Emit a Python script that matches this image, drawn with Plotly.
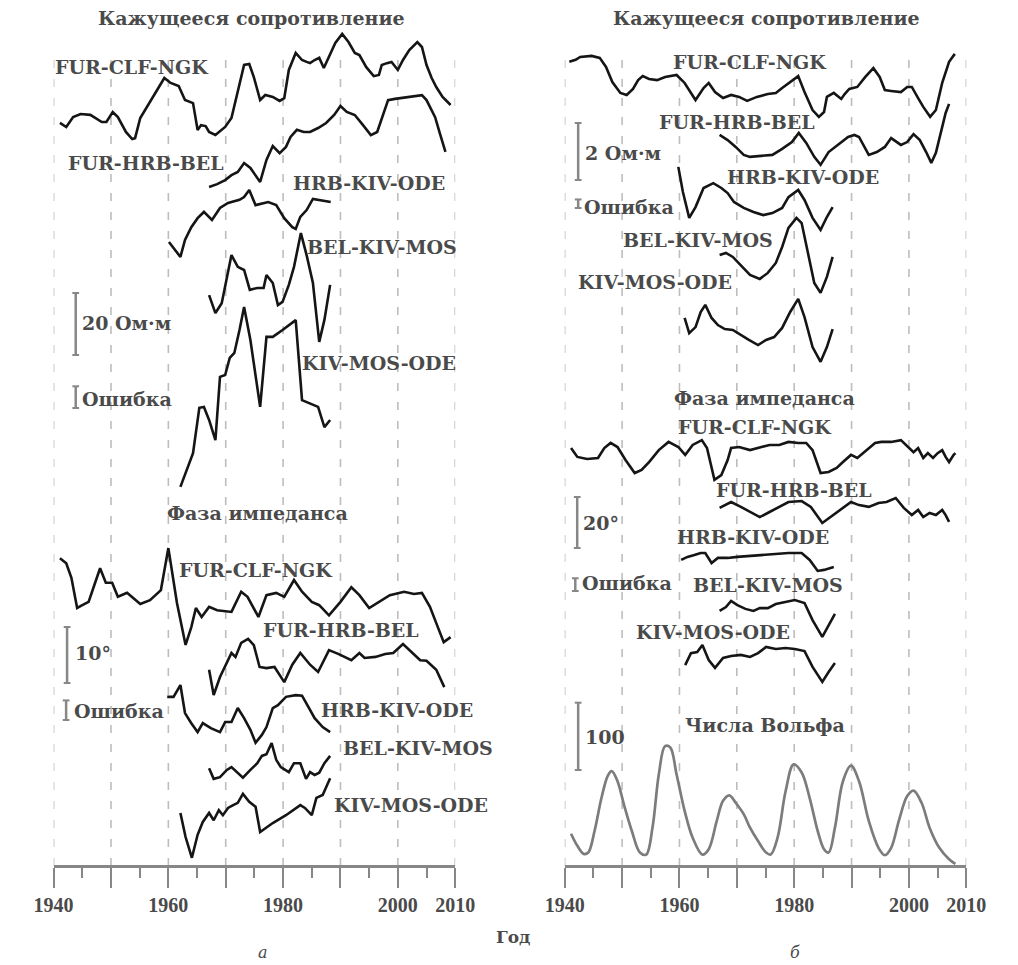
import numpy as np
import plotly.graph_objects as go

W, H = 1018, 965

# ======================= DATA =======================
# Panel а : apparent resistivity (Ом·м, relative), five station triplets
a_rho_fcn_years = [1941.1,1942.2,1943.4,1944.7,1946.4,1948.4,1949.2,1950.3,1951.2,1952.6,1953.7,1954.2,1955.1,1957.0,1959.3,1960.4,1961.8,1962.9,1964.3,1965.1,1965.7,1966.5,1967.1,1968.2,1969.9,1971.0,1972.1,1973.2,1974.1,1974.9,1976.0,1976.9,1978.2,1979.4,1980.2,1981.0,1982.2,1983.3,1984.1,1984.7,1985.5,1986.3,1987.1,1988.0,1989.1,1990.3,1991.4,1992.5,1993.3,1994.5,1995.8,1996.7,1997.2,1998.1,1998.9,2000.0,2000.9,2002.0,2003.4,2004.2,2005.0,2005.9,2006.7,2007.8,2009.2]
a_rho_fcn = [5.5,4.2,7.4,8.4,8.1,5.8,5.8,9.0,7.4,2.6,0.3,0.6,7.1,12.9,20.0,18.4,17.4,12.9,11.9,3.2,4.8,4.5,2.6,1.6,4.2,7.1,16.1,24.2,24.5,20.3,12.9,14.5,13.9,12.6,13.5,22.6,28.1,25.8,25.2,24.8,25.8,26.5,23.2,26.8,31.3,34.2,31.6,28.1,27.4,23.5,20.6,21.0,24.2,24.8,25.2,22.6,25.8,29.0,31.6,30.0,24.2,20.0,17.1,13.9,11.3]

a_rho_fhb_years = [1967.1,1968.5,1969.9,1971.0,1972.1,1973.2,1974.3,1976.0,1977.1,1978.2,1979.4,1980.5,1981.3,1982.4,1983.6,1984.7,1986.1,1987.5,1988.9,1990.0,1991.1,1992.5,1993.9,1995.3,1996.4,1997.2,1998.3,1999.5,2000.9,2002.3,2004.2,2005.0,2006.5,2007.3,2008.3]
a_rho_fhb = [1.0,1.9,3.2,4.8,5.8,8.7,7.1,2.6,9.7,14.2,11.9,13.9,17.1,19.4,18.7,18.7,20.0,21.6,24.2,27.1,25.2,24.2,21.0,17.7,18.7,23.2,29.0,29.4,29.7,30.0,30.6,29.0,23.5,18.4,12.3]

a_rho_hko_years = [1960.1,1962.1,1962.9,1964.0,1965.1,1966.2,1967.6,1969.0,1970.4,1972.4,1973.2,1974.1,1975.2,1976.3,1977.4,1978.8,1980.2,1981.6,1982.2,1983.0,1984.1,1985.2,1986.3,1988.3]
a_rho_hko = [5.8,1.0,6.5,10.6,13.5,15.5,12.9,16.8,18.4,19.4,20.3,22.6,17.7,18.1,18.7,17.7,13.5,10.6,10.0,13.9,16.1,19.7,19.4,18.7]

a_rho_bkm_years = [1967.1,1968.2,1969.3,1971.0,1972.1,1973.2,1974.2,1975.5,1976.6,1977.1,1978.2,1979.1,1979.9,1981.0,1981.9,1983.1,1984.1,1985.2,1986.3,1987.2,1988.2]
a_rho_bkm = [16.1,10.3,13.5,29.0,25.2,24.2,17.8,18.4,18.4,22.6,20.0,12.9,13.9,19.4,25.2,36.1,29.0,20.0,1.0,8.1,19.4]

a_rho_kmo_years = [1962.1,1963.2,1964.3,1965.4,1966.2,1967.1,1968.2,1969.0,1969.9,1970.7,1971.5,1972.4,1973.2,1974.3,1976.0,1977.1,1978.2,1979.9,1982.2,1983.3,1984.4,1986.1,1987.2,1988.2]
a_rho_kmo = [1.0,6.5,11.9,26.5,26.8,22.6,16.1,36.5,37.1,42.6,44.2,51.6,59.0,48.4,26.8,49.4,49.4,51.6,54.8,29.0,28.1,26.8,20.3,22.6]

# Panel а : impedance phase (degrees, relative)
a_phi_fcn_years = [1941.1,1942.2,1943.1,1944.1,1945.0,1946.1,1947.1,1948.1,1949.1,1950.2,1951.2,1952.8,1955.1,1956.8,1958.7,1960.0,1961.5,1963.0,1964.0,1964.8,1965.8,1967.1,1968.5,1971.0,1972.7,1973.8,1975.7,1977.1,1978.8,1980.2,1981.9,1983.3,1985.0,1986.3,1988.0,1990.0,1991.9,1993.3,1995.0,1996.7,1998.6,2001.1,2002.8,2004.2,2005.6,2006.7,2008.0,2009.2]
a_phi_fcn = [16.4,15.5,12.9,7.5,8.0,8.6,11.6,14.6,12.0,12.0,9.5,10.2,8.2,8.9,10.7,18.2,8.4,0.9,4.1,7.5,5.9,7.7,7.1,6.8,10.4,9.5,5.9,9.8,10.2,9.5,12.5,10.4,8.6,8.0,6.2,8.6,11.2,9.8,7.5,8.6,9.8,10.4,10.0,10.2,7.7,4.8,1.4,2.3]

a_phi_fhb_years = [1967.1,1967.9,1969.0,1970.2,1971.0,1971.7,1972.7,1973.9,1974.9,1975.9,1977.1,1978.5,1980.2,1981.6,1983.0,1984.7,1986.1,1988.0,1989.7,1991.9,1993.3,1994.2,1996.1,1997.8,1999.2,2000.9,2002.5,2003.9,2005.0,2006.7,2008.1]
a_phi_fhb = [5.4,0.9,4.1,6.6,8.4,7.7,10.2,10.9,9.8,5.9,5.7,5.9,3.2,6.3,8.4,6.3,5.0,8.9,8.2,7.1,8.4,7.5,7.7,8.2,8.4,10.0,8.4,7.1,7.0,5.4,2.3]

a_phi_hko_years = [1959.8,1960.9,1962.1,1962.9,1964.0,1965.1,1966.0,1967.4,1969.0,1969.9,1971.0,1972.1,1973.2,1974.3,1975.2,1976.3,1977.1,1978.2,1979.1,1980.5,1982.2,1983.3,1984.4,1985.5,1986.9,1988.2]
a_phi_hko = [8.6,8.6,10.7,5.7,3.9,2.3,3.9,3.0,2.3,4.1,4.1,6.6,4.8,2.7,0.4,1.8,3.2,6.6,7.1,8.6,8.9,8.8,6.8,4.8,3.2,2.3]

a_phi_bkm_years = [1967.1,1967.9,1969.0,1970.2,1971.0,1972.1,1973.0,1974.3,1975.5,1976.3,1977.1,1978.0,1978.8,1979.6,1981.0,1981.9,1983.0,1984.0,1984.7,1985.5,1986.3,1987.2,1988.2]
a_phi_bkm = [2.1,0.2,0.5,1.8,2.3,1.3,0.4,1.8,3.0,4.3,4.6,6.6,3.6,2.3,1.4,3.0,3.0,0.2,1.4,0.9,1.3,3.0,4.3]

a_phi_kmo_years = [1962.1,1963.0,1964.1,1965.1,1966.0,1967.1,1967.9,1968.8,1969.5,1970.4,1971.3,1972.1,1973.0,1974.1,1975.2,1976.0,1978.2,1980.5,1983.0,1983.8,1985.0,1985.8,1986.9,1988.2]
a_phi_kmo = [8.4,4.1,0.4,4.5,6.8,8.4,7.1,8.9,8.0,9.3,9.8,10.2,11.8,10.4,9.5,5.0,6.6,8.0,9.8,9.3,8.0,11.1,11.6,14.6]

# Panel б : apparent resistivity (Ом·м, relative)
b_rho_fcn_years = [1940.8,1941.9,1942.7,1944.7,1946.1,1947.2,1948.3,1949.7,1950.8,1951.9,1952.8,1953.6,1954.7,1956.1,1957.5,1959.5,1960.9,1962.8,1964.2,1965.1,1966.2,1967.6,1969.0,1970.4,1971.8,1973.5,1975.4,1976.8,1977.9,1979.3,1980.7,1981.8,1983.2,1984.3,1985.2,1985.7,1986.9,1988.2,1988.8,1989.6,1991.0,1992.4,1993.8,1994.9,1995.8,1996.9,1998.6,1999.7,2000.5,2001.6,2002.5,2003.7,2004.7,2005.8,2007.0,2008.0]
b_rho_fcn = [2.04,2.11,2.21,2.25,2.18,1.86,1.33,0.95,0.88,1.09,1.40,1.54,1.44,1.40,1.51,1.58,1.30,0.70,1.12,1.30,0.98,0.77,0.88,0.81,0.67,0.81,0.91,0.95,1.12,1.33,1.54,0.98,0.35,0.11,0.28,0.81,0.95,0.74,0.91,1.09,1.16,1.51,1.82,1.51,1.05,1.02,0.98,1.16,1.16,0.77,0.46,0.11,0.35,1.30,2.04,2.32]

b_rho_fhb_years = [1967.0,1968.4,1969.8,1971.2,1972.3,1974.6,1976.2,1977.9,1979.6,1980.8,1982.1,1983.5,1984.6,1986.0,1987.1,1988.2,1989.4,1990.5,1991.3,1993.0,1994.4,1995.8,1996.9,1998.6,1999.7,2000.8,2001.9,2003.0,2003.9,2004.7,2005.5,2006.4,2007.0]
b_rho_fhb = [1.23,1.05,0.81,0.53,0.46,0.49,0.53,0.74,0.98,1.30,0.95,0.46,0.18,0.63,0.81,0.98,1.16,1.23,1.16,0.53,0.63,0.81,1.12,0.88,0.98,1.26,1.05,0.63,0.25,0.60,1.30,2.00,2.32]

b_rho_hko_years = [1959.8,1960.6,1961.7,1962.8,1964.2,1965.9,1967.3,1968.4,1969.5,1971.2,1972.9,1974.6,1976.2,1977.9,1979.0,1980.7,1981.8,1983.2,1984.6,1985.7,1986.7]
b_rho_hko = [2.39,1.51,0.60,0.98,1.65,1.82,1.65,1.47,1.16,0.95,0.81,0.70,0.77,0.95,1.33,1.58,1.23,0.60,0.18,0.63,0.98]

b_rho_bkm_years = [1967.0,1968.1,1969.3,1970.7,1972.3,1974.0,1975.4,1976.8,1977.9,1979.0,1980.4,1981.3,1982.4,1983.5,1984.6,1985.7,1986.7]
b_rho_bkm = [1.58,1.65,1.51,1.23,0.88,0.74,0.95,1.30,1.86,2.53,2.88,2.70,1.65,0.60,0.25,0.81,1.51]

b_rho_kmo_years = [1960.9,1961.7,1962.8,1963.7,1964.5,1965.6,1966.7,1967.9,1969.3,1970.7,1972.1,1973.7,1975.1,1976.5,1977.9,1979.3,1980.7,1981.8,1983.2,1984.6,1985.7,1986.7]
b_rho_kmo = [1.65,1.12,1.33,1.86,2.11,1.65,1.40,1.26,1.23,1.05,0.88,0.70,0.88,0.98,1.30,1.86,2.32,1.68,0.63,0.11,0.63,1.26]

# Panel б : impedance phase (degrees, relative)
b_phi_fcn_years = [1941.1,1942.2,1943.9,1945.8,1946.9,1948.0,1949.2,1950.6,1952.2,1953.4,1954.7,1956.4,1958.1,1959.8,1961.0,1962.3,1963.9,1964.8,1966.1,1967.3,1968.4,1969.0,1970.4,1972.3,1974.3,1975.7,1977.4,1979.0,1980.7,1982.1,1983.2,1984.6,1986.0,1987.4,1988.5,1989.9,1991.0,1992.7,1994.1,1995.2,1996.9,1998.6,2000.0,2000.8,2001.6,2002.5,2003.3,2004.2,2005.0,2005.8,2006.4,2007.0,2007.8,2008.1]
b_phi_fcn = [14.5,11.0,10.2,10.6,14.5,16.5,14.9,9.8,4.7,5.9,9.0,13.7,16.9,14.9,11.8,15.7,17.6,14.5,2.0,3.9,9.8,14.5,14.9,13.7,14.9,15.7,15.7,16.9,16.5,16.5,13.7,4.7,5.1,6.7,9.0,11.8,10.6,13.7,16.5,16.9,16.9,17.6,14.5,12.9,14.5,10.6,12.5,10.6,12.5,13.7,11.0,9.0,11.8,12.5]

b_phi_fhb_years = [1967.0,1969.0,1970.7,1972.6,1974.0,1975.7,1977.4,1979.0,1981.3,1982.9,1984.9,1986.3,1988.0,1989.9,1991.3,1993.0,1994.7,1996.1,1997.7,1999.1,2000.5,2001.6,2002.5,2003.6,2004.7,2005.8,2006.4,2007.0]
b_phi_fhb = [6.7,9.0,7.1,4.7,3.1,5.1,7.1,9.0,9.4,7.1,0.8,3.1,5.9,9.0,7.8,7.1,8.6,9.0,10.6,6.7,3.9,5.9,3.1,4.7,3.9,5.9,3.9,1.2]

b_phi_hko_years = [1960.3,1961.4,1962.6,1963.7,1964.5,1965.6,1966.7,1968.4,1970.1,1972.3,1974.6,1976.8,1979.0,1981.3,1982.7,1984.1,1985.2,1986.9]
b_phi_hko = [5.9,7.1,7.8,8.6,8.6,4.7,6.7,6.7,7.1,7.5,7.8,8.2,8.6,8.6,5.9,1.6,2.0,3.1]

b_phi_bkm_years = [1967.0,1968.1,1969.0,1970.1,1971.5,1972.9,1974.0,1975.4,1976.8,1978.5,1980.1,1981.8,1983.2,1984.9,1986.0,1987.1]
b_phi_bkm = [11.4,12.9,15.3,13.7,12.2,11.4,12.5,12.5,14.1,14.9,15.7,14.5,7.8,1.2,5.9,10.2]

b_phi_kmo_years = [1961.0,1962.0,1963.1,1964.0,1965.1,1966.2,1967.6,1969.0,1970.7,1972.3,1973.7,1975.1,1976.8,1978.5,1980.1,1981.8,1983.2,1984.9,1986.0,1987.1]
b_phi_kmo = [7.8,12.5,12.9,15.7,9.8,6.7,10.6,11.4,11.8,11.0,12.5,14.9,14.1,14.5,14.1,13.3,7.1,1.2,5.1,8.6]

# Panel б : Wolf (sunspot) numbers
wolf_years = [1941.1,1942.2,1943.3,1944.1,1945.2,1946.4,1947.5,1948.2,1949.2,1950.3,1951.7,1953.1,1954.2,1955.3,1956.4,1957.5,1958.4,1959.5,1960.9,1962.3,1964.0,1965.1,1966.5,1967.6,1968.7,1969.8,1971.2,1972.3,1973.7,1975.1,1975.9,1977.1,1978.5,1979.9,1981.3,1982.7,1984.1,1985.2,1986.0,1987.1,1988.5,1989.9,1991.3,1993.0,1994.7,1995.8,1996.9,1998.3,1999.7,2000.8,2002.2,2003.6,2005.3,2007.0,2008.1]
wolf = [48,30,18,20,52,101,134,141,126,92,52,20,17,57,136,178,176,136,82,42,17,25,67,97,105,94,77,57,37,20,17,42,111,151,139,101,52,25,20,57,126,149,126,67,27,16,27,69,104,112,94,57,27,10,3]

station_labels = ["FUR-CLF-NGK", "FUR-HRB-BEL", "HRB-KIV-ODE", "BEL-KIV-MOS", "KIV-MOS-ODE"]
tick_years = [1940, 1950, 1960, 1970, 1980, 1990, 2000, 2010]
tick_text = ["1940", "", "1960", "", "1980", "", "2000", "2010"]

# scale bars (value of bar) and error bars
scale_vals = {"y": 20, "y2": 10, "y3": 2, "y4": 20, "y5": 100}
error_vals = {"y": 7, "y2": 3.5, "y3": 0.3, "y4": 5}

# ======================= LAYOUT / GEOMETRY =======================
AXIS_PX = 866          # vertical pixel of the time axes
GRID_TOP = 50
LEFT_DOM = (35, 453)
RIGHT_DOM = (567, 985)
# pixels per data unit for each hidden y-axis
PPU = {"y": 3.1, "y2": 5.6, "y3": 28.5, "y4": 2.55, "y5": 0.673}

def py(p):  # pixel row -> paper fraction
    return 1 - p / H

def px(p):
    return p / W

def base(axis, pixel_row):  # vertical offset of a trace, in axis units
    return -pixel_row / PPU[axis]

BLACK = "#151515"
GREY = "#878787"
TXT = "#4a4a4a"
LBL_FONT = dict(family="DejaVu Serif", size=19, color=TXT, weight="bold")

series = [
    # years, vals, xaxis, yaxis, baseline pixel row
    (a_rho_fcn_years, a_rho_fcn, "x", "y", 140),
    (a_rho_fhb_years, a_rho_fhb, "x", "y", 190),
    (a_rho_hko_years, a_rho_hko, "x", "y", 260),
    (a_rho_bkm_years, a_rho_bkm, "x", "y", 345),
    (a_rho_kmo_years, a_rho_kmo, "x", "y", 490),
    (a_phi_fcn_years, a_phi_fcn, "x", "y2", 650),
    (a_phi_fhb_years, a_phi_fhb, "x", "y2", 700),
    (a_phi_hko_years, a_phi_hko, "x", "y2", 745),
    (a_phi_bkm_years, a_phi_bkm, "x", "y2", 780),
    (a_phi_kmo_years, a_phi_kmo, "x", "y2", 860),
    (b_rho_fcn_years, b_rho_fcn, "x2", "y3", 120),
    (b_rho_fhb_years, b_rho_fhb, "x2", "y3", 170),
    (b_rho_hko_years, b_rho_hko, "x2", "y3", 235),
    (b_rho_bkm_years, b_rho_bkm, "x2", "y3", 300),
    (b_rho_kmo_years, b_rho_kmo, "x2", "y3", 365),
    (b_phi_fcn_years, b_phi_fcn, "x2", "y4", 485),
    (b_phi_fhb_years, b_phi_fhb, "x2", "y4", 525),
    (b_phi_hko_years, b_phi_hko, "x2", "y4", 575),
    (b_phi_bkm_years, b_phi_bkm, "x2", "y4", 640),
    (b_phi_kmo_years, b_phi_kmo, "x2", "y4", 685),
]

fig = go.Figure()
for yrs, vals, xa, ya, b in series:
    fig.add_trace(go.Scatter(
        x=yrs, y=np.array(vals, dtype=float) + base(ya, b),
        mode="lines", line=dict(color=BLACK, width=2.6),
        xaxis=xa, yaxis=ya, hoverinfo="skip", showlegend=False, cliponaxis=False))

fig.add_trace(go.Scatter(
    x=wolf_years, y=np.array(wolf, dtype=float) + base("y5", AXIS_PX),
    mode="lines", line=dict(color="#7c7c7c", width=2.7, shape="spline", smoothing=1.0),
    xaxis="x2", yaxis="y5", hoverinfo="skip", showlegend=False, cliponaxis=False))

# ---------- axes ----------
def xaxis_cfg(dom):
    return dict(
        domain=[px(dom[0]), px(dom[1])], range=[1940, 2010], autorange=False,
        anchor="free", position=py(AXIS_PX),
        showline=True, linecolor=GREY, linewidth=3,
        ticks="outside", ticklen=20, tickwidth=2, tickcolor=GREY,
        tickmode="array", tickvals=tick_years, ticktext=tick_text,
        tickfont=dict(family="Liberation Serif", size=20, color=TXT, weight="bold"),
        minor=dict(ticks="outside", tickmode="linear", tick0=1940, dtick=5,
                   ticklen=10, tickwidth=2, tickcolor=GREY, showgrid=False),
        showgrid=False, zeroline=False, fixedrange=True)

layout_axes = {"xaxis": xaxis_cfg(LEFT_DOM), "xaxis2": xaxis_cfg(RIGHT_DOM)}
for i, ya in enumerate(["y", "y2", "y3", "y4", "y5"]):
    key = "yaxis" if i == 0 else f"yaxis{i+1}"
    layout_axes[key] = dict(domain=[0, 1], range=[-H / PPU[ya], 0], autorange=False,
                            visible=False, fixedrange=True,
                            anchor="x" if ya in ("y", "y2") else "x2")

shapes = []
# dashed vertical grid lines
for xr in ["x", "x2"]:
    for yr in tick_years:
        shapes.append(dict(type="line", xref=xr, yref="paper", x0=yr, x1=yr,
                           y0=py(AXIS_PX), y1=py(GRID_TOP), layer="below",
                           line=dict(color="#bdbdbd", width=1.6, dash="8px,11px")))

def bar(ya, xpix, bottom_pix, value):
    y0 = base(ya, bottom_pix)
    y1 = y0 + value
    shapes.append(dict(type="line", xref="paper", yref=ya, x0=px(xpix), x1=px(xpix),
                       y0=y0, y1=y1, line=dict(color=GREY, width=2.5)))
    for yy in (y0, y1):
        shapes.append(dict(type="line", xref="paper", yref=ya, x0=px(xpix - 3.5), x1=px(xpix + 3.5),
                           y0=yy, y1=yy, line=dict(color=GREY, width=2)))

bar("y", 58, 355, scale_vals["y"])
bar("y", 58, 408, error_vals["y"])
bar("y2", 49, 683, scale_vals["y2"])
bar("y2", 48, 720, error_vals["y2"])
bar("y3", 581, 180, scale_vals["y3"])
bar("y3", 581, 208, error_vals["y3"])
bar("y4", 580, 548, scale_vals["y4"])
bar("y4", 578, 591, error_vals["y4"])
bar("y5", 581, 770, scale_vals["y5"])

# ---------- text ----------
ann = []
def text(t, cx, cy, anchor="center", font=None):
    ann.append(dict(text=t, x=px(cx), y=py(cy), xref="paper", yref="paper",
                    xanchor=anchor, yanchor="middle", showarrow=False,
                    font=font or LBL_FONT))

text("Кажущееся сопротивление", 241, 18)
text("Кажущееся сопротивление", 777, 18)
text("Фаза импеданса", 247, 513)
text("Фаза импеданса", 775, 398)
text("Числа Вольфа", 775, 725)

# panel а labels
for lab, (cx, cy) in zip(station_labels, [(117, 67), (131, 163), (363, 183), (377, 247), (374, 363)]):
    text(lab, cx, cy)
for lab, (cx, cy) in zip(station_labels, [(246, 570), (334, 630), (392, 710), (414, 748), (407, 805)]):
    text(lab, cx, cy)
# panel б labels
for lab, (cx, cy) in zip(station_labels, [(760, 62), (746, 122), (815, 177), (706, 240), (661, 282)]):
    text(lab, cx, cy)
for lab, (cx, cy) in zip(station_labels, [(765, 427), (806, 490), (763, 537), (779, 585), (721, 632)]):
    text(lab, cx, cy)

# scale-bar captions
text(f"{scale_vals['y']} Ом·м", 62, 323, "left")
text("Ошибка", 62, 399, "left")
text(f"{scale_vals['y2']}°", 55, 653, "left")
text("Ошибка", 54, 711, "left")
text(f"{scale_vals['y3']} Ом·м", 586, 153, "left")
text("Ошибка", 585, 207, "left")
text(f"{scale_vals['y4']}°", 584, 523, "left")
text("Ошибка", 583, 583, "left")
text(f"{scale_vals['y5']}", 586, 737, "left")

text("Год", 513, 937, font=dict(family="DejaVu Serif", size=17, color=TXT, weight="bold"))
text("а", 253, 952, font=dict(family="DejaVu Serif", size=16, color=TXT, style="italic"))
text("б", 807, 952, font=dict(family="DejaVu Serif", size=16, color=TXT, style="italic"))

fig.update_layout(
    width=W, height=H, margin=dict(l=0, r=0, t=0, b=0),
    paper_bgcolor="white", plot_bgcolor="rgba(0,0,0,0)",
    showlegend=False, shapes=shapes, annotations=ann, **layout_axes)

fig.write_html("out.html")
